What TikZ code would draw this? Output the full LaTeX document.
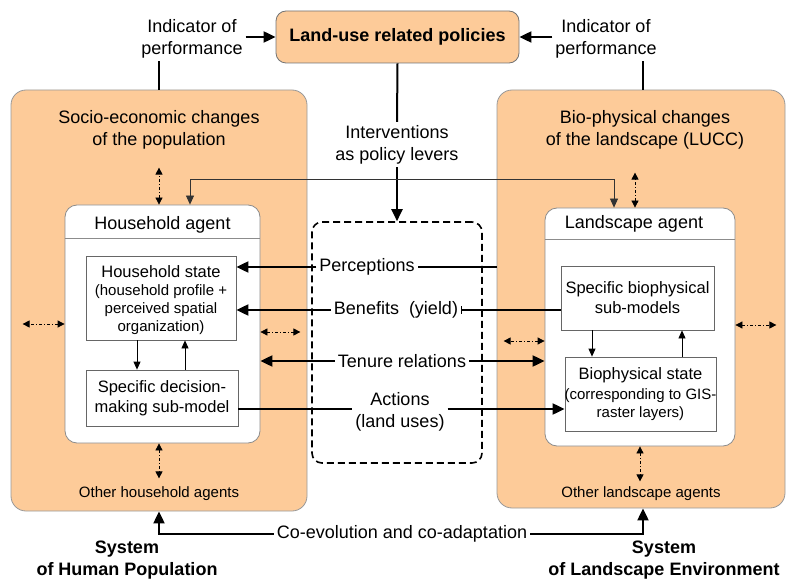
\documentclass[tikz,border=0pt]{standalone}
\usepackage{fontspec}
\setmainfont{Liberation Sans}
\usetikzlibrary{arrows.meta}
\definecolor{peach}{RGB}{253,203,153}
\begin{document}
\begin{tikzpicture}[x=1pt,y=-1pt,
  every node/.style={font=\fontsize{18}{22}\selectfont, align=center, inner sep=3pt},
  sbf/.style={font=\fontsize{16.5}{20}\selectfont},
  smf/.style={font=\fontsize{15}{18}\selectfont},
  bigbox/.style={draw=black!40, fill=peach, rounded corners=15pt, line width=0.8pt},
  polbox/.style={draw=black!55, fill=peach, rounded corners=10pt, line width=0.8pt},
  agent/.style={draw=black!45, fill=white, rounded corners=12pt, line width=0.8pt},
  subbox/.style={draw=black!60, fill=white, line width=0.8pt},
  dbox/.style={draw=black, dash pattern=on 7pt off 4pt, rounded corners=10pt, line width=1.6pt},
  thk/.style={line width=2pt},
  tharr/.style={line width=2pt, -{Triangle[length=12pt,width=11pt]}},
  tarr/.style={line width=0.8pt, -{Triangle[length=8pt,width=7pt]}},
  tdarr/.style={line width=0.8pt, black!80, {Triangle[length=9pt,width=8pt]}-{Triangle[length=9pt,width=8pt]}},
  dd/.style={line width=0.8pt, dash pattern=on 3pt off 2pt on 1pt off 2pt, {Triangle[length=7pt,width=7pt]}-{Triangle[length=7pt,width=7pt]}},
  hdr/.style={draw=black!45, line width=0.8pt}
]
\useasboundingbox (0,0) rectangle (787,580);

% big boxes
\node[bigbox, minimum width=296pt, minimum height=421pt] (bigL) at (159,300.5) {};
\node[bigbox, minimum width=288pt, minimum height=418pt] (bigR) at (641,299) {};

% policy box
\node[polbox, minimum width=243pt, minimum height=52pt, font=\bfseries\fontsize{18}{22}\selectfont] (pol) at (397.5,37) {Land-use related policies};

% indicator texts
\node (indL) at (192,38.5) {Indicator of\\performance};
\node (indR) at (606,38.5) {Indicator of\\performance};
\draw[tharr] (indL.east |- pol) -- (pol.west);
\draw[tharr] (indR.west |- pol) -- (pol.east);
\draw[thk] (bigL.north) -- (bigL.north |- indL.south);
\draw[thk] ([xshift=2pt]bigR.north) -- ([xshift=2pt]bigR.north |- indR.south);

% titles
\node (tL) at (159,129.5) {Socio-economic changes\\of the population};
\node (tR) at (645,129.5) {Bio-physical changes\\of the landscape (LUCC)};

% agent boxes
\node[agent, minimum width=195pt, minimum height=238pt] (haL) at (162.5,324) {};
\node[agent, minimum width=190pt, minimum height=238pt] (laA) at (640,327) {};
\draw[hdr] ([yshift=-34pt]haL.north west) -- ([yshift=-34pt]haL.north east);
\draw[hdr] ([yshift=-32pt]laA.north west) -- ([yshift=-32pt]laA.north east);
\node (haT) at ([yshift=-20pt]haL.north) {Household agent};
\node (laT) at ([xshift=-6pt,yshift=-16pt]laA.north) {Landscape agent};

% sub boxes
\node[subbox, minimum width=150pt, minimum height=84pt] (hs) at (161,298) {};
\node[sbf] (hsT) at ([yshift=-16pt]hs.north) {Household state};
\node[smf] (hsP) at ([yshift=-54pt]hs.north) {(household profile +\\perceived spatial\\organization)};
\node[subbox, sbf, minimum width=152pt, minimum height=56pt] (dm) at (162,398) {Specific decision-\\making sub-model};
\node[subbox, sbf, minimum width=153pt, minimum height=64pt] (bsm) at (637.5,298) {Specific biophysical\\sub-models};
\node[subbox, minimum width=151pt, minimum height=74pt] (bst) at (640.5,394) {};
\node[sbf] (bstT) at ([yshift=-19pt]bst.north) {Biophysical state};
\node[smf] (bstP) at ([yshift=-48pt]bst.north) {(corresponding to GIS-\\raster layers)};

% internal thin arrows
\draw[tarr] ([xshift=-24pt]hs.south) -- ([xshift=-24pt]hs.south |- dm.north);
\draw[tarr] ([xshift=23pt]dm.north) -- ([xshift=23pt]dm.north |- hs.south);
\draw[tarr] ([xshift=-45.5pt]bsm.south) -- ([xshift=-45.5pt]bsm.south |- bst.north);
\draw[tarr] ([xshift=41.5pt]bst.north) -- ([xshift=41.5pt]bst.north |- bsm.south);

% dashed box
\node[dbox, minimum width=170pt, minimum height=241pt] (db) at (397,342.5) {};

% interventions
\node (iv) at (397,144.5) {Interventions\\as policy levers};
\draw[thk] (pol.south) -- (iv.north);
\draw[tharr] (iv.south) -- (db.north);

% thin connector between agents
\coordinate (c1) at (190,179);
\coordinate (c2) at (614,179);
\draw[tdarr] (c1 |- haL.north) -- (c1) -- (c2) -- (c2 |- laA.north);

% dash-dot double arrows
\draw[dd] ([xshift=-3.5pt]haL.north) -- ++(0,-37);
\draw[dd] ([xshift=-5pt]laA.north) -- ++(0,-35);
\draw[dd] ([xshift=-3.5pt]haL.south) -- ++(0,35);
\draw[dd] (laA.south) -- ++(0,35);
\draw[dd] (haL.west) -- ++(-42,0);
\draw[dd] ([yshift=-8pt]haL.east) -- ++(40,0);
\draw[dd] ([yshift=-14pt]laA.west) -- ++(-41,0);
\draw[dd] ([yshift=2pt]laA.east) -- ++(41,0);

\node[smf] (oh) at (159,494) {Other household agents};
\node[smf] (ol) at (641,494) {Other landscape agents};

% flows through the dashed box
\node (per) at (367,267) {Perceptions};
\draw[thk] (bigR.west |- per) -- (per.east);
\draw[tharr] (per.west) -- (hs.east |- per);

\node (ben) at (396,310) {Benefits~~(yield)};
\draw[thk] (bsm.west |- ben) -- (ben.east);
\draw[line width=0.8pt] ([yshift=4pt]ben.east) -- ([yshift=-4pt]ben.east);
\draw[tharr] (ben.west) -- (hs.east |- ben);

\node (ten) at (402,361) {Tenure relations};
\draw[tharr] (ten.west) -- (haL.east |- ten);
\draw[tharr] (ten.east) -- (laA.west |- ten);

\node (act) at (400,411.5) {Actions\\(land uses)};
\draw[thk] (dm.east |- act) ++(0,-2.5) -- ([yshift=2.5pt]act.west);
\draw[tharr] ([yshift=2.5pt]act.east) -- ([yshift=2.5pt]bst.west |- act);

% co-evolution
\node (co) at (402,534) {Co-evolution and co-adaptation};
\draw[tharr] (co.west) -| (bigL.south);
\draw[tharr] (co.east) -| ([xshift=2pt]bigR.south);

% system labels
\node[font=\bfseries\fontsize{18}{22}\selectfont] (sL) at (127,560.5) {System\\of Human Population};
\node[font=\bfseries\fontsize{18}{22}\selectfont] (sR) at (664,560.5) {System\\of Landscape Environment};
\end{tikzpicture}
\end{document}
